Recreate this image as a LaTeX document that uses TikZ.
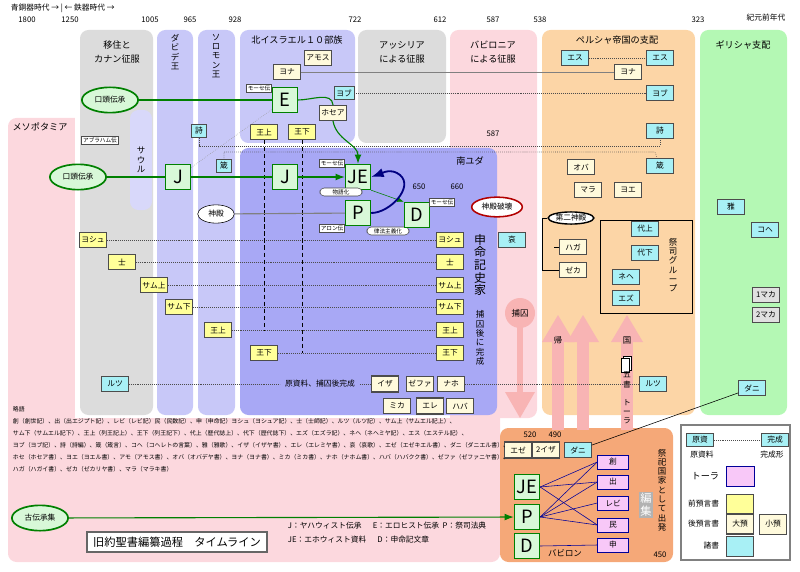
\documentclass[tikz,border=0pt]{standalone}
\usepackage{fontspec}
\setmainfont{Noto Sans CJK JP}
\usetikzlibrary{arrows.meta,calc,positioning,shapes.geometric}
\definecolor{grayc}{HTML}{DCDCDC}
\definecolor{lav}{HTML}{C8C8F8}
\definecolor{judah}{HTML}{A8A8F5}
\definecolor{pinkc}{HTML}{FCD8DE}
\definecolor{peach}{HTML}{FCD5A6}
\definecolor{greenc}{HTML}{B4F8B4}
\definecolor{babyl}{HTML}{F5A878}
\definecolor{yel}{HTML}{FFFF99}
\definecolor{cyanc}{HTML}{A8F0F5}
\definecolor{cream}{HTML}{FFFADC}
\definecolor{tora}{HTML}{F8C8F8}
\definecolor{srcg}{HTML}{D8F8D8}
\definecolor{arr}{HTML}{F8B4B4}
\tikzset{
  every node/.style={font=\fontsize{5.5}{6}\selectfont},
  col/.style={rounded corners=6pt,draw=none},
  bk/.style={draw=black!70,minimum height=11pt,minimum width=19pt,inner sep=1pt},
  yb/.style={bk,fill=yel},
  cb/.style={bk,fill=cyanc},
  kb/.style={bk,fill=cream},
  bb/.style={kb,line width=1.1pt},
  tb/.style={draw=blue!60!black,fill=tora,minimum width=22pt,minimum height=10pt,inner sep=1pt},
  src/.style={draw=green!50!black,fill=srcg,thick,minimum size=18pt,inner sep=0pt,font=\fontsize{13}{13}\selectfont},
  lbl/.style={draw=black!70,fill=white,inner sep=1pt,font=\fontsize{4}{4.5}\selectfont},
  rlbl/.style={lbl,rounded corners=3pt,minimum width=30pt},
  oral/.style={ellipse,draw=green!50!black,fill=srcg,line width=1.2pt,minimum width=40pt,minimum height=18pt,inner sep=1pt},
  gr/.style={green!50!black,thick},
  dl/.style={densely dotted,black!70},
  vt/.style={align=center,font=\fontsize{6}{6.6}\selectfont}
}
\begin{document}
\begin{tikzpicture}[x=0.025cm,y=-0.025cm]
\useasboundingbox (0,0) rectangle (800,571);
% hintergrund
\fill[pinkc,rounded corners=6pt] (8,118) rectangle (500,562);
\fill[white] (75,26) rectangle (450,418);
\fill[grayc,col] (80,30) rectangle (153,415);
\fill[lav,col] (157,30) rectangle (193,415);
\fill[lav,col] (198,30) rectangle (235,415);
\fill[lav,col] (240,30) rectangle (355,143);
\fill[grayc,col] (358,30) rectangle (446,143);
\fill[pinkc,col] (450,30) rectangle (537,418);
\fill[peach,col] (542,30) rectangle (695,415);
\fill[greenc,col] (700,30) rectangle (787,415);
\fill[judah,col] (240,148) rectangle (497,415);
\fill[lav!70,col] (130,110) rectangle (152,210);
\fill[babyl,col] (500,428) rectangle (673,562);
\draw[black!50,line width=1.2pt,fill=white] (681,425) rectangle (790,560);
% zeit
\node[anchor=west] at (6,8) {青銅器時代 → | ← 鉄器時代 →};
\foreach \yr/\xx in {1800/27,1250/70,1005/150,965/190,928/235,722/355,612/440,587/493,538/540,323/698}
  \node at (\xx,20) {\yr};
\node at (766,18) {紀元前年代};
\node[align=center,font=\fontsize{6.5}{10}\selectfont] at (117,52) {移住と\\カナン征服};
\node[vt] at (175,52) {ダ\\ビ\\デ\\王};
\node[vt] at (216,56) {ソ\\ロ\\モ\\ン\\王};
\node[font=\fontsize{6.5}{7}\selectfont] at (297,40) {北イスラエル１０部族};
\node[align=center,font=\fontsize{6.5}{10}\selectfont] at (402,52) {アッシリア\\による征服};
\node[align=center,font=\fontsize{6.5}{10}\selectfont] at (493,52) {バビロニア\\による征服};
\node[font=\fontsize{6.5}{7}\selectfont] at (617,40) {ペルシャ帝国の支配};
\node[font=\fontsize{6.5}{7}\selectfont] at (743,45) {ギリシャ支配};
\node[font=\fontsize{6.5}{7}\selectfont] at (40,127) {メソポタミア};
\node[vt] at (141,160) {サ\\ウ\\ル};
\node[font=\fontsize{6.5}{7}\selectfont] at (470,161) {南ユダ};
\node at (493,134) {587};
\node at (419,187) {650};
\node at (457,187) {660};
% quellen
\node[oral] (oralA) at (110,100) {口頭伝承};
\node[oral] (oralB) at (78,177) {口頭伝承};
\node[lbl] (abr) at (100,140) {アブラハム伝};
\node[src] (E) at (285,100) {E};
\node[lbl,anchor=east] (mE) at (272,88) {モーセ伝};
\node[src] (J1) at (178,177) {J};
\node[src] (J2) at (285,177) {J};
\node[src] (JE) at (358,177) {JE};
\node[lbl,anchor=east] (mJE) at (345,163) {モーセ伝};
\node[rlbl] (nar) at (341,192) {物語化};
\node[src] (P) at (358,213) {P};
\node[lbl,anchor=east] (aron) at (345,228) {アロン伝};
\node[rlbl] (law) at (388,231) {律法主義化};
\node[src] (D) at (417,215) {D};
\node[lbl] (mD) at (442,202) {モーセ伝};
\node[ellipse,draw,fill=white,minimum width=26pt,minimum height=13pt,inner sep=1pt] (temple) at (216,214) {神殿};
\node[ellipse,draw=red!70!black,line width=1.1pt,fill=white,minimum width=36pt,minimum height=14pt,inner sep=1pt] (destr) at (497,207) {神殿破壊};
% nord
\node[kb] (yonaN) at (287,72) {ヨナ};
\node[kb] (amos) at (318,58) {アモス};
\node[cb,minimum width=14pt,minimum height=9pt] (jobN) at (344,93) {ヨブ};
\node[kb] (hosea) at (333,113) {ホセア};
\node[yb] (kg1N) at (264,132) {王上};
\node[yb] (kg2N) at (302,132) {王下};
\node[cb,minimum width=11pt,minimum height=9pt] (psN) at (199,131) {詩};
\node[cb,minimum width=11pt,minimum height=9pt] (prN) at (224,166) {箴};
% geschichtsbuecher
\foreach \nm/\tx/\xa/\yy in {jos/ヨシュ/93/240,jud/士/122/262,sa1/サム上/154/285,sa2/サム下/179/307,kg1/王上/218/330,kg2/王下/264/353}{
  \node[yb] (\nm L) at (\xa,\yy) {\tx};
  \node[yb] (\nm R) at (450,\yy) {\tx};
  \draw[dl] (\nm L) -- (\nm R);
}
\draw[densely dashed] (kg1N) -- (kg1N|-kg1L);
\draw[densely dashed] (kg2N) -- (kg2N|-kg2L);
\node[vt,font=\fontsize{8.5}{9}\selectfont] at (480,265) {申\\命\\記\\史\\家};
\node[vt] at (480,338) {捕\\囚\\後\\に\\完\\成};
\node[cb] (ruthL) at (115,384) {ルツ};
\node (ruthT) at (320,384) {原資料、捕囚後完成};
\node[bb] (isa) at (385,384) {イザ};
\node[kb] (zep) at (420,384) {ゼファ};
\node[kb] (nah) at (451,384) {ナホ};
\node[kb] (mic) at (397,406) {ミカ};
\node[bb] (jer) at (430,406) {エレ};
\node[kb] (hab) at (460,406) {ハバ};
\node[cb] (lam) at (512,240) {哀};
% persien
\node[cb] (esA) at (575,58) {エス};
\node[cb] (esB) at (660,58) {エス};
\node[kb] (yonaP) at (628,72) {ヨナ};
\node[cb] (jobP) at (660,93) {ヨブ};
\node[cb] (psP) at (660,131) {詩};
\node[cb] (prP) at (660,166) {箴};
\node[kb] (oba) at (581,167) {オバ};
\node[kb] (mal) at (588,190) {マラ};
\node[kb] (joe) at (628,190) {ヨエ};
\node[ellipse,draw,line width=1pt,fill=white,inner sep=0.5pt] (temple2) at (571,218) {第二神殿};
\node[kb] (hag) at (573,247) {ハガ};
\node[kb] (zec) at (573,270) {ゼカ};
\draw (temple2.west) -- ++(-5,0) |- (zec.west) (hag.west) -- ++(-5,0);
\draw (600,220) rectangle (692,313);
\node[cb] (ch1) at (645,229) {代上};
\node[cb] (ch2) at (645,253) {代下};
\node[cb] (neh) at (626,277) {ネヘ};
\node[cb] (ezr) at (626,298) {エズ};
\node[vt] at (673,265) {祭\\司\\グ\\ル\\ー\\プ};
\draw[dl] (esA) -- (esB);
\draw[black!50] (yonaN) -- (yonaN-|yonaP.west);
\draw[dl] (jobN) -- (jobP);
\draw[dl] (psN) |- (660,146) -- (psP);
\draw[dl] (prN) |- (655,152) -- (prP);
\draw[dl,black!40] (J1) -- (E);
% griechen
\node[cb] (song) at (731,207) {雅};
\node[cb] (eccl) at (765,230) {コヘ};
\node[bk,fill=black!12] (mac1) at (766,295) {1マカ};
\node[bk,fill=black!12] (mac2) at (766,315) {2マカ};
\node[cb] (danG) at (752,388) {ダニ};
% pfeile
\fill[arr] (517,313) rectangle (523,395);
\fill[arr] (505,392) -- (535,392) -- (520,418) -- cycle;
\fill[arr] (520,313) circle (15);
\node[vt] at (520,313) {捕囚};
\foreach \xa in {558,583}{
  \fill[arr] (\xa-6,340) rectangle (\xa+6,430);
  \fill[arr] (\xa-16,342) -- (\xa+16,342) -- (\xa,315) -- cycle;
}
\fill[arr] (621,340) rectangle (633,430);
\fill[arr] (611,342) -- (643,342) -- (627,315) -- cycle;
\node[vt] at (558,340) {帰};
\node[vt] at (627,340) {国};
\draw[fill=white] (623,356) rectangle (631,370);
\draw[fill=white] (621,358) rectangle (629,372);
\node[vt,font=\fontsize{5.5}{6.5}\selectfont] at (627,398) {五\\書\\\\ト\\ー\\ラ};
\node[cb] (ruthP) at (653,384) {ルツ};
\draw[dl] (ruthL) -- (ruthT) (ruthT.east) -- (isa) (nah.east) -- (ruthP);
% babylon
\node at (530,435) {520};
\node at (555,435) {490};
\node[bb] (ezk) at (518,450) {エゼ};
\node[bb] (isa2) at (546,450) {2イザ};
\node[cb] (danB) at (578,450) {ダニ};
\draw (danB) -- (danG);
\node[src] (JEb) at (527,487) {JE};
\node[src] (Pb) at (527,517) {P};
\node[src] (Db) at (527,546) {D};
\foreach \nm/\tx/\yy in {gen/創/462,exo/出/482,lev/レビ/503,num/民/525,deu/申/545}
  \node[tb] (\nm) at (613,\yy) {\tx};
\foreach \a/\b in {JEb/gen,JEb/exo,JEb/num,Pb/gen,Pb/exo,Pb/lev,Pb/num,Db/deu}
  \draw[blue!60!black] (\a.east) -- (\b.west);
\node[vt,font=\fontsize{8}{9}\selectfont,fill=black!30,text=white,inner sep=1pt] at (646,505) {編\\集};
\node[vt] at (662,490) {祭\\祀\\国\\家\\と\\し\\て\\出\\発};
\node[font=\fontsize{6}{7}\selectfont] at (565,553) {バビロン};
\node at (660,555) {450};
% verbindungen
\draw[gr] (oralA) -- (E);
\draw[gr] (E.east) to[out=0,in=95] (hosea.north);
\draw[gr,-{Latex}] (hosea.south) to[out=-80,in=90] (JE.north);
\draw[gr] (oralB) -- (J1);
\draw[gr] (J1) -- (J2);
\draw[gr,-{Latex}] (J2) -- (JE);
\draw[black!50,thick] (temple) -- (P);
\draw[green!50!black,-{Latex}] (JE.south east) -- (D.north west);
\draw[blue!50!black,line width=1.3pt,-{Latex}] (P.east) to[out=0,in=-40] (400,175) to[out=140,in=20] (JE.east);
\node[oral] (oldC) at (40,518) {古伝承集};
\draw[gr,-{Latex}] (oldC) -- (Pb);
% abkuerzungen
\node[anchor=north west,align=left,font=\fontsize{4.2}{8.4}\selectfont] at (8,402) {略語\\
創（創世記）、出（出エジプト記）、レビ（レビ記）民（民数記）、申（申命記）ヨシュ（ヨシュア記）、士（士師記）、ルツ（ルツ記）、サム上（サムエル記上）、\\
サム下（サムエル記下）、王上（列王記上）、王下（列王記下）、代上（歴代誌上）、代下（歴代誌下）、エズ（エズラ記）、ネヘ（ネヘミヤ記）、エス（エステル記）、\\
ヨブ（ヨブ記）、詩（詩編）、箴（箴言）、コヘ（コヘレトの言葉）、雅（雅歌）、イザ（イザヤ書）、エレ（エレミヤ書）、哀（哀歌）、エゼ（エゼキエル書）、ダニ（ダニエル書）、\\
ホセ（ホセア書）、ヨエ（ヨエル書）、アモ（アモス書）、オバ（オバデヤ書）、ヨナ（ヨナ書）、ミカ（ミカ書）、ナホ（ナホム書）、ハバ（ハバクク書）、ゼファ（ゼファニヤ書）、\\
ハガ（ハガイ書）、ゼカ（ゼカリヤ書）、マラ（マラキ書）};
\node[anchor=west,align=left,font=\fontsize{5.5}{10}\selectfont] at (283,533) {J：ヤハウィスト伝承\quad\ \ E：エロヒスト伝承\ \ P：祭司法典\\JE：エホウィスト資料\quad\ \ D：申命記文章};
\node[draw=black!60,line width=1.2pt,fill=white,minimum width=128pt,minimum height=14pt,font=\fontsize{8}{9}\selectfont] (title) at (177,542) {旧約聖書編纂過程　タイムライン};
% legende
\node[cb,minimum height=9pt] (lgA) at (700,440) {原資};
\node[cb,minimum height=9pt] (lgB) at (775,440) {完成};
\draw[dl] (lgA) -- (lgB);
\node at (702,455) {原資料};
\node at (772,455) {完成形};
\node[tb,minimum width=20pt,minimum height=14pt] (lgT) at (740,476) {};
\node[anchor=east,font=\fontsize{6.5}{7}\selectfont] at (724,476) {トーラ};
\node[yb,minimum height=14pt] (lgY) at (740,504) {};
\node[anchor=east] at (724,504) {前預言書};
\node[bb,minimum height=14pt] (lgBig) at (740,524) {大預};
\node[kb,minimum height=14pt] (lgSm) at (773,524) {小預};
\node[anchor=east] at (724,524) {後預言書};
\node[cb,minimum height=14pt] (lgC) at (740,546) {};
\node[anchor=east] at (724,546) {諸書};
\end{tikzpicture}
\end{document}
